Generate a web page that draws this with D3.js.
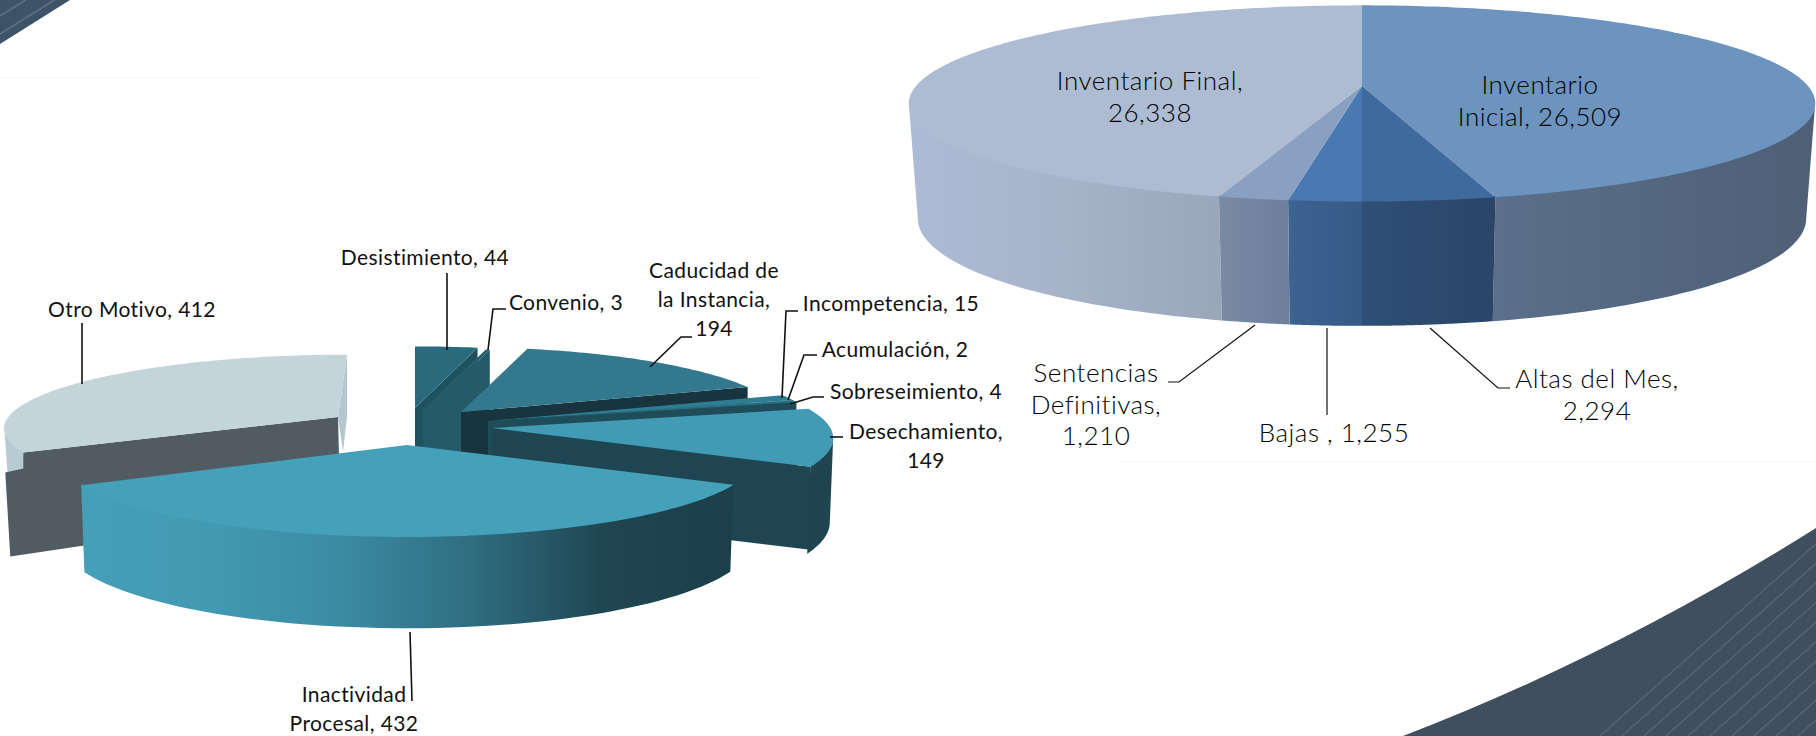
<!DOCTYPE html>
<html>
<head>
<meta charset="utf-8">
<script src="https://cdn.jsdelivr.net/npm/d3@7"></script>
<style>
	html, body { margin: 0; padding: 0; background: #fff; }
	svg { display: block; }
</style>
</head>
<body>
<div id="chart"></div>
<script>
//values
var caseNames = ["Inventario Inicial", "Altas del Mes", "Bajas ", "Sentencias Definitivas", "Inventario Final"];
var caseValues = [26509, 2294, 1255, 1210, 26338];

var exitNames = ["Desistimiento", "Convenio", "Caducidad de la Instancia", "Incompetencia", "Acumulación",
	"Sobreseimiento", "Desechamiento", "Inactividad Procesal", "Otro Motivo"];
var exitValues = [44, 3, 194, 15, 2, 4, 149, 432, 412];

//pie shapes: rx, ry = ellipse, p = perspective strength, h = wall height, taper = bottom rim width
var bigPie = {rx: 446, ry: 95, p: 0.178, h: 113, taper: 0.98};
var smallPie = {rx: 347, ry: 80, p: 0.13, h: 83, taper: 0.99};

//one style entry per slice of the big pie
var bigStyle = [
	{top: "#6d93bf", wall: ["#5b6f8a", "#4e5f76"]},
	{top: "#3f6a9e", wall: ["#2f4f77", "#2a4568"]},
	{top: "#4a78b0", wall: ["#3c6391", "#365a86"]},
	{top: "#8aa0c3", wall: ["#7a8aa5", "#6e7f9c"]},
	{top: "#aebcd3", wall: ["#adbbd6", "#a7b3c9", "#9aa6ba"]}
];

//one style entry per slice of the small exploded pie, cx/cy is where its tip ended up
var smallStyle = [
	{cx: 415, cy: 408, s: 0.93, sy: 0.87, top: "#2b6a7c", endFace: "#1f5261"},
	{cx: 423, cy: 410, s: 0.93, sy: 0.87, top: "#256070", endFace: "#255a69"},
	{cx: 461, cy: 412, s: 0.925, sy: 0.915, top: "#33788c", endFace: "#17343f"},
	{cx: 488, cy: 421, s: 0.95, top: "#2f7d92", endFace: "#1f4c59"},
	{cx: 488, cy: 421, s: 0.95, top: "#3a8ba1", endFace: "#1f4c59"},
	{cx: 488, cy: 421, s: 0.95, top: "#2c7183", endFace: "#1f4c59"},
	{cx: 492, cy: 428, s: 0.975, top: "#429bb4", endFace: "#1f4552", wall: ["#1e4450", "#1f4551"]},
	{cx: 407, cy: 445, s: 1, top: "#45a0b9", wall: ["#459fb8", "#4299b2", "#3b8ba3", "#2f6d80", "#1f4652", "#1c3f4a"]},
	{cx: 338, cy: 417, s: 0.95, sy: 0.88, shear: -0.145, top: "#c3d4db", wallH: 46, wall: ["#b7cbd2", "#b7cbd2"],
		startFace: "#505b62", startOffs: [[0, 16], [-18, 20], [-13, 104], [317, 55]],
		endFace: "#b3c7cf", endOffs: [[0, 62], [-4, 97]]}
];

//label placement, words = how many words go on each line
var exitLabels = [
	{x: 425, y: 265, words: [2], lead: [[447, 273], [447, 350]]},
	{x: 566, y: 310, words: [2], lead: [[488, 350], [493, 309], [506, 309]]},
	{x: 714, y: 278, words: [2, 2, 1], lead: [[650, 367], [681, 337], [692, 337]]},
	{x: 891, y: 311, words: [2], lead: [[782, 398], [786, 311], [798, 311]]},
	{x: 895, y: 357, words: [2], lead: [[788, 400], [804, 355], [817, 355]]},
	{x: 916, y: 399, words: [2], lead: [[790, 404], [813, 397], [824, 397]]},
	{x: 926, y: 439, words: [1, 1], lead: [[830, 437], [843, 437]]},
	{x: 354, y: 702, words: [1, 2], lead: [[410, 632], [412, 701]]},
	{x: 132, y: 317, words: [3], lead: [[82, 323], [82, 384]]}
];
var caseLabels = [
	{x: 1540, y: 94, words: [1, 2]},
	{x: 1597, y: 388, words: [3, 1], lead: [[1430, 328], [1498, 388], [1510, 388]]},
	{x: 1334, y: 442, words: [3], lead: [[1327, 328], [1327, 415]]},
	{x: 1096, y: 382, words: [1, 1, 1], lead: [[1255, 325], [1179, 382], [1168, 382]]},
	{x: 1150, y: 90, words: [2, 1]}
];

var width = 1816, height = 736;
var fmt = d3.format(",");
var line = d3.line();
var pie = d3.pie().sort(null).startAngle(0).endAngle(2 * Math.PI);

var svg = d3.select("#chart").append("svg")
	.attr("width", width)
	.attr("height", height);
var defs = svg.append("defs");

drawBackground();
drawPie(caseValues, bigPie, bigStyle.map(function(d) { return Object.assign({cx: 1362, cy: 86, s: 1}, d); }), "big");
drawPie(exitValues, smallPie, smallStyle, "small");
drawLabels(exitNames, exitValues, exitLabels, {family: "Lato", size: 21, step: 29, lead: 1.6, spacing: 0.4, weight: 400, color: "#111"});
drawLabels(caseNames, caseValues, caseLabels, {family: "Lato", size: 26, step: 31.5, lead: 1.2, spacing: 0.5, weight: 300, color: "#000"});

//ground point on the rim of a pie for angle a
function rim(cfg, st, a) {
	var u = Math.sin(a), v = -Math.cos(a), w = 1 - cfg.p * v;
	var x = u * cfg.rx * st.s / w, y = v * cfg.ry * (st.sy || st.s) / w;
	return {x: st.cx + x + (st.shear || 0) * y, y: st.cy + y, v: v};
}

function face(cfg, st, a, offs, h) {
	var r = rim(cfg, st, a);
	offs = offs || [[0, h], [st.cx - r.x, st.cy + h - r.y]];
	return [[st.cx, st.cy], [r.x, r.y]].concat(offs.map(function(o) { return [r.x + o[0], r.y + o[1]]; }));
}

function drawPie(values, cfg, styles, id) {
	var arcs = pie(values);
	var g = svg.append("g").attr("class", "pie-" + id);
	var turn = Math.PI / 180;
	//the rim is widest here, the wall starts and stops at these angles
	var sideA = Math.acos(-cfg.p), sideB = 2 * Math.PI - sideA;

	//last slice sits at the back, so it is painted first
	arcs.slice(-1).concat(arcs.slice(0, -1)).forEach(function(d) {
		var i = d.index, st = styles[i], a0 = d.startAngle, a1 = d.endAngle;
		var wallH = st.wallH || cfg.h;
		var sg = g.append("g");

		if(st.endFace) {
			sg.append("path")
				.attr("d", line(face(cfg, st, a1, st.endOffs, cfg.h)) + "Z")
				.attr("fill", st.endFace);
		}

		//outer wall, only the part of the rim that faces the viewer
		var w0 = Math.max(a0, sideA), w1 = Math.min(a1, sideB);
		if(st.wall && w1 > w0) {
			var samples = d3.range(0, 61).map(function(k) { return w0 + (w1 - w0) * k / 60; });
			//start the wall a little under the top so no seam shows between them
			var upper = samples.map(function(a) { var r = rim(cfg, st, a); return [r.x, r.y - 1]; });
			var lower = samples.map(function(a) {
				var r = rim(cfg, st, a);
				var hh = wallH * (1 + 0.1 * r.v);
				return [st.cx + (r.x - st.cx) * cfg.taper, r.y + hh];
			}).reverse();
			var xs = d3.extent(upper, function(p) { return p[0]; });
			var gradId = id + "-wall-" + i;
			var grad = defs.append("linearGradient")
				.attr("id", gradId)
				.attr("gradientUnits", "userSpaceOnUse")
				.attr("x1", xs[0]).attr("x2", xs[1]).attr("y1", 0).attr("y2", 0);
			st.wall.forEach(function(c, k) {
				grad.append("stop")
					.attr("offset", k / (st.wall.length - 1))
					.attr("stop-color", c);
			});
			sg.append("path")
				.attr("d", line(upper.concat(lower)) + "Z")
				.attr("fill", "url(#" + gradId + ")");
		}

		if(st.startFace) {
			sg.append("path")
				.attr("d", line(face(cfg, st, a0, st.startOffs, cfg.h)) + "Z")
				.attr("fill", st.startFace);
		}

		var steps = Math.max(4, Math.ceil((a1 - a0) / turn));
		var topPts = [[st.cx, st.cy]].concat(d3.range(0, steps + 1).map(function(k) {
			var r = rim(cfg, st, a0 + (a1 - a0) * k / steps);
			return [r.x, r.y];
		}));
		sg.append("path")
			.attr("d", line(topPts) + "Z")
			.attr("fill", st.top);
	});
}

function drawLabels(names, values, layout, opt) {
	var g = svg.append("g").attr("class", "labels");
	names.forEach(function(name, i) {
		var lay = layout[i];
		if(lay.lead) {
			g.append("path")
				.attr("d", line(lay.lead))
				.attr("fill", "none")
				.attr("stroke", "#111")
				.attr("stroke-width", opt.lead);
		}
		var words = (name + ", " + fmt(values[i])).split(" ").filter(function(w) { return w != ""; });
		//"Bajas , 1,255" keeps the odd space before the comma
		if(name.slice(-1) == " ") words = [name + ",", words[words.length - 1]];
		var n = 0;
		lay.words.forEach(function(c, k) {
			g.append("text")
				.attr("x", lay.x)
				.attr("y", lay.y + k * opt.step)
				.attr("text-anchor", "middle")
				.attr("font-family", opt.family)
				.attr("font-weight", opt.weight)
				.attr("font-size", opt.size)
				.attr("letter-spacing", opt.spacing)
				.attr("fill", opt.color)
				.text(words.slice(n, n + c).join(" "));
			n += c;
		});
	});
}

//the dark swooshes of the slide behind the charts
function drawBackground() {
	var corner = d3.path();
	corner.moveTo(0, 44);
	corner.lineTo(70, 0);
	corner.lineTo(0, 0);
	corner.closePath();
	svg.append("path").attr("d", corner.toString()).attr("fill", "#3f5368");
	[16, 34].forEach(function(x) {
		svg.append("path")
			.attr("d", line([[0, x], [x * 1.6, 0]]))
			.attr("stroke", "#5d7084")
			.attr("stroke-width", 1.5);
	});

	var swoosh = d3.path();
	swoosh.moveTo(1403, 736);
	swoosh.quadraticCurveTo(1616, 654, 1816, 528);
	swoosh.lineTo(1816, 736);
	swoosh.closePath();
	defs.append("clipPath").attr("id", "swoosh-clip").append("path").attr("d", swoosh.toString());
	svg.append("path").attr("d", swoosh.toString()).attr("fill", "#3f4f5e");
	svg.append("g").attr("clip-path", "url(#swoosh-clip)")
		.selectAll("path")
		.data(d3.range(1600, 2040, 22))
		.enter().append("path")
		.attr("d", function(x) { return line([[x, 736], [x + 400, 736 - 356]]); })
		.attr("stroke", "#566878")
		.attr("stroke-width", 1.2);

	//very faint seams left in the slide image
	svg.append("path").attr("d", "M0,78H760").attr("stroke", "#f7f7f7");
	svg.append("path").attr("d", "M1115,462H1816").attr("stroke", "#f7f7f7");
}
</script>
</body>
</html>
